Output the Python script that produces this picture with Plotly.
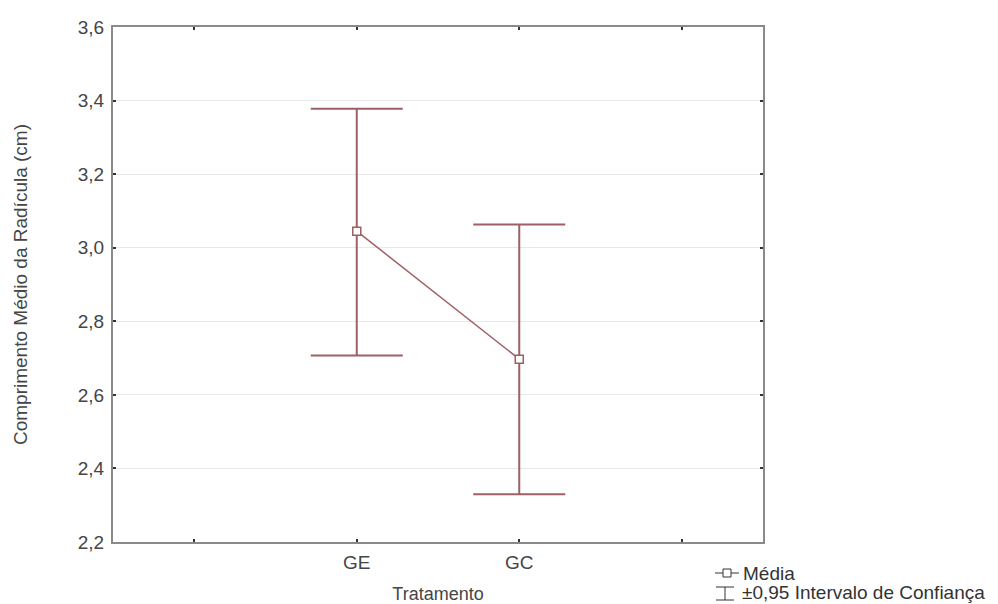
import plotly.graph_objects as go

categories = ["GE", "GC"]
x_positions = [1, 2]
means = [3.045, 2.697]
ci_upper = [3.378, 3.063]
ci_lower = [2.707, 2.330]
x_tickvals = [0, 1, 2, 3]
x_ticktext = ["", "GE", "GC", ""]

COLOR = "#9e6064"
FONT = "Liberation Sans, Arial, sans-serif"
TXT = "#454545"

W, H = 998, 604
OFF = 8  # page body margin
# plot area in page pixels
PL, PR, PT, PB = 113, 763, 27, 542
L, T = PL - OFF, PT - OFF
R = W - (PR - OFF)
B = H - (PB - OFF)
PW, PH = PR - PL, PB - PT

def px(x):
    return (x - PL) / PW

def py(y):
    return (PB - y) / PH

fig = go.Figure()
fig.add_trace(go.Scatter(
    x=x_positions, y=means,
    mode="lines+markers",
    line=dict(color=COLOR, width=1.5),
    marker=dict(symbol="square", size=8, color="white", line=dict(color=COLOR, width=1.5)),
    error_y=dict(
        type="data", symmetric=False,
        array=[u - m for u, m in zip(ci_upper, means)],
        arrayminus=[m - l for m, l in zip(means, ci_lower)],
        color=COLOR, thickness=2, width=46,
    ),
    showlegend=False,
    hoverinfo="skip",
))

LC = "#333333"
shapes = [
    dict(type="line", xref="paper", yref="paper",
         x0=px(715), x1=px(739), y0=py(573), y1=py(573), line=dict(color=LC, width=1)),
    dict(type="rect", xref="paper", yref="paper",
         x0=px(723), x1=px(731), y0=py(577), y1=py(569),
         line=dict(color=LC, width=1), fillcolor="white"),
    dict(type="line", xref="paper", yref="paper",
         x0=px(716), x1=px(734), y0=py(587), y1=py(587), line=dict(color=LC, width=1)),
    dict(type="line", xref="paper", yref="paper",
         x0=px(716), x1=px(734), y0=py(600), y1=py(600), line=dict(color=LC, width=1)),
    dict(type="line", xref="paper", yref="paper",
         x0=px(725), x1=px(725), y0=py(587), y1=py(600), line=dict(color=LC, width=1)),
]

annotations = [
    dict(text="Média", xref="paper", yref="paper", x=px(741), y=py(573),
         xanchor="left", yanchor="middle", showarrow=False,
         font=dict(family=FONT, size=19, color=LC)),
    dict(text="±0,95 Intervalo de Confiança", xref="paper", yref="paper", x=px(740), y=py(592),
         xanchor="left", yanchor="middle", showarrow=False,
         font=dict(family=FONT, size=19, color=LC)),
]

fig.update_layout(
    width=W, height=H,
    margin=dict(l=L, r=R, t=T, b=B, autoexpand=False),
    paper_bgcolor="white", plot_bgcolor="white",
    separators=",.",
    font=dict(family=FONT, size=19, color=TXT),
    shapes=shapes,
    annotations=annotations,
    xaxis=dict(
        range=[-0.5, 3.5], tickvals=x_tickvals, ticktext=x_ticktext,
        showgrid=False, zeroline=False, automargin=False,
        showline=True, linecolor="#8a8a8a", linewidth=2, mirror="ticks",
        ticks="inside", ticklen=3, tickcolor="#333333", tickwidth=1.5,
        ticklabelstandoff=2,
        title=dict(text="Tratamento", standoff=16, font=dict(size=18, color=TXT)),
        tickfont=dict(size=19, color=TXT),
    ),
    yaxis=dict(
        range=[2.2, 3.6], dtick=0.2, tick0=2.2, tickformat=".1f",
        showgrid=True, gridcolor="#e8e8e8", gridwidth=1, zeroline=False, automargin=False,
        showline=True, linecolor="#8a8a8a", linewidth=2, mirror="ticks",
        ticks="inside", ticklen=3, tickcolor="#333333", tickwidth=1.5,
        ticklabelstandoff=3,
        title=dict(text="Comprimento Médio da Radícula (cm)", standoff=45, font=dict(size=19, color=TXT)),
        tickfont=dict(size=19, color=TXT),
    ),
)

fig.write_html("out.html")
